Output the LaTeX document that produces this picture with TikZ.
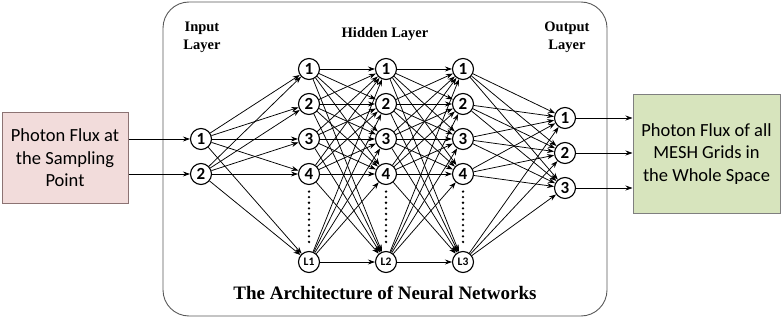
\documentclass[tikz,border=0pt]{standalone}
\usepackage{fontspec}
\setmainfont{Liberation Serif}
\newfontfamily\calib{Carlito}
\usetikzlibrary{arrows.meta}
\definecolor{pinkfill}{HTML}{F2DCDB}
\definecolor{pinkdraw}{HTML}{8C7373}
\definecolor{greenfill}{HTML}{D7E4BD}
\definecolor{greendraw}{HTML}{7F7F7F}
\tikzset{
  neuron/.style={circle, draw, line width=1.1pt, minimum size=21pt, inner sep=0pt, fill=white, font=\calib\bfseries\fontsize{17}{17}\selectfont},
  smallneuron/.style={neuron, font=\calib\bfseries\fontsize{11.5}{11.5}\selectfont},
  arr/.style={line width=0.75pt, -{Stealth[length=7pt,width=5pt]}},
  layerlabel/.style={align=center, font=\bfseries\fontsize{14.5}{18}\selectfont},
  dotline/.style={line width=2.6pt, dash pattern=on 0pt off 5.6pt, line cap=round, shorten >=6.5pt, shorten <=6.5pt},
  flowbox/.style={draw, line width=1pt, align=center, inner sep=0pt, font=\calib\fontsize{18.5}{22.5}\selectfont}
}
\begin{document}
\begin{tikzpicture}[x=1pt,y=-1pt]
\useasboundingbox (0,0) rectangle (782,318);
\draw[line width=0.9pt, draw=black!65, rounded corners=26pt] (163,2) rectangle (607,316);
\node[flowbox, fill=pinkfill, draw=pinkdraw, minimum width=126pt, minimum height=90pt] (lbox) at (65,158) {Photon Flux at\\the Sampling\\Point};
\node[flowbox, fill=greenfill, draw=greendraw, minimum width=147pt, minimum height=118pt] (rbox) at (706.5,154) {Photon Flux of all\\MESH Grids in\\the Whole Space};
\node[layerlabel] (linput) at (202,37) {Input\\Layer};
\node[layerlabel] (lhidden) at (385,34) {Hidden Layer};
\node[layerlabel] (loutput) at (567,37) {Output\\Layer};
\node[font=\bfseries\fontsize{19}{19}\selectfont] (title) at (385,293) {The Architecture of Neural Networks};
% input
\node[neuron] (i1) at (201,139) {1};
\node[neuron] (i2) at (201,174) {2};
% hidden
\foreach \c/\x in {1/309,2/386,3/463}{
  \node[neuron] (h\c1) at (\x,69) {1};
  \node[neuron] (h\c2) at (\x,104) {2};
  \node[neuron] (h\c3) at (\x,139) {3};
  \node[neuron] (h\c4) at (\x,174) {4};
  \node[smallneuron] (h\c5) at (\x,262) {L\c};
  \draw[dotline] (h\c4) -- (h\c5);
}
% output
\node[neuron] (o1) at (565,118) {1};
\node[neuron] (o2) at (565,153) {2};
\node[neuron] (o3) at (565,188) {3};
% edges
\foreach \a in {1,2}{\foreach \b in {1,...,5}{\draw[arr] (i\a) -- (h1\b);}}
\foreach \a in {1,...,5}{\foreach \b in {1,...,5}{
  \draw[arr] (h1\a) -- (h2\b);
  \draw[arr] (h2\a) -- (h3\b);
}}
\foreach \a in {1,...,5}{\foreach \b in {1,2,3}{\draw[arr] (h3\a) -- (o\b);}}
% box connectors
\draw[arr] (i1 -| lbox.east) -- (i1);
\draw[arr] (i2 -| lbox.east) -- (i2);
\draw[arr] (o1) -- (o1 -| rbox.west);
\draw[arr] (o2) -- (o2 -| rbox.west);
\draw[arr] (o3) -- (o3 -| rbox.west);
\end{tikzpicture}
\end{document}
